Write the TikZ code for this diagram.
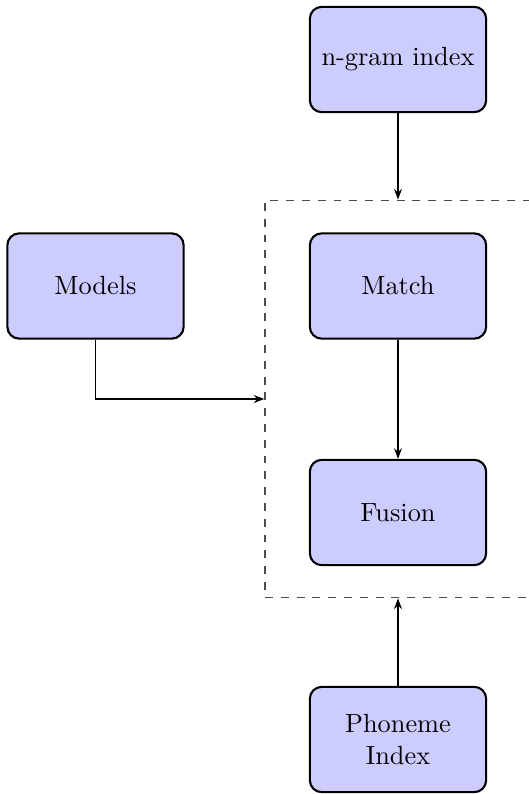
\documentclass[tikz,border=0pt]{standalone}
\usetikzlibrary{arrows.meta}
\tikzset{
  block/.style={draw=black, thick, fill=blue!20, rounded corners=4.5pt,
    minimum width=67pt, minimum height=40pt, align=center, inner sep=2pt},
  group/.style={draw=black!70, dashed, semithick, minimum width=101pt, minimum height=151pt},
  flow/.style={semithick, -{Stealth[length=4pt,width=3pt]}},
}
\begin{document}
\begin{tikzpicture}[x=0.38pt, y=-0.38pt]
  \useasboundingbox (0,0) rectangle (529,794);

  % processing stage enclosing matching and fusion
  \node[group] (stage) at (398,399) {};

  \node[block] (ngram)  at (398,59.5)  {n-gram index};
  \node[block] (models) at (95.5,286)  {Models};
  \node[block] (match)  at (398,286) {Match};
  \node[block] (fusion) at (398,512.5) {Fusion};
  \node[block] (phon)   at (398,739.5) {Phoneme\\Index};

  \draw[flow] (ngram) -- (stage.north);
  \draw[flow] (match) -- (fusion);
  \draw[flow] (phon) -- (stage.south);
  \draw[flow] (models.south) |- (stage.west);
\end{tikzpicture}
\end{document}
